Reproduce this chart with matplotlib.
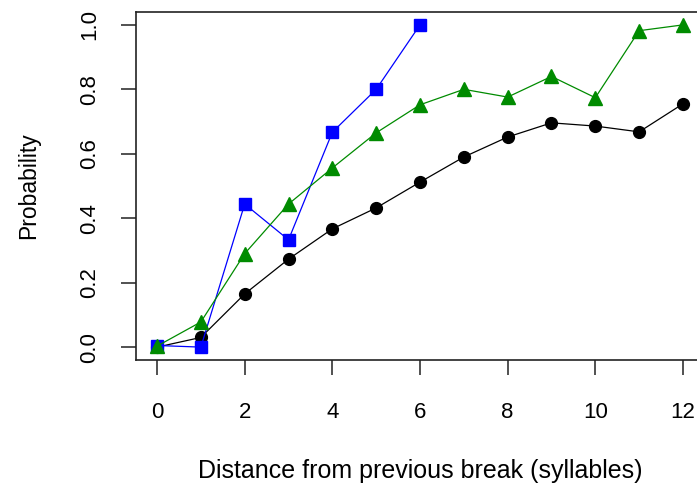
import matplotlib
matplotlib.use("Agg")
import matplotlib.pyplot as plt

plt.rcParams['font.family'] = ['Liberation Sans', 'DejaVu Sans']

# data
dist_black = list(range(13))
prob_black = [0.0, 0.03, 0.165, 0.273, 0.367, 0.432, 0.512, 0.59, 0.652, 0.696, 0.686, 0.668, 0.755]

dist_blue = list(range(7))
prob_blue = [0.005, 0.0, 0.444, 0.333, 0.667, 0.8, 1.0]

dist_green = list(range(13))
prob_green = [0.003, 0.078, 0.29, 0.444, 0.556, 0.665, 0.752, 0.80, 0.776, 0.84, 0.774, 0.982, 1.0]

xticks = [0, 2, 4, 6, 8, 10, 12]
yticks = [0.0, 0.2, 0.4, 0.6, 0.8, 1.0]

W, H = 697, 491
fig = plt.figure(figsize=(W / 100, H / 100), dpi=100)
ax = fig.add_axes([136 / W, (H - 360) / H, (704 - 136) / W, (360 - 12) / H])

ax.plot(dist_black, prob_black, color='black', lw=0.9, marker='o', ms=8.5, zorder=3)
ax.plot(dist_blue, prob_blue, color='#0000FF', lw=0.9, marker='s', ms=9, zorder=4)
ax.plot(dist_green, prob_green, color='#008B00', lw=0.9, marker='^', ms=10, zorder=5)

ax.set_xlim(-0.48, 12.48)
ax.set_ylim(-0.04, 1.04)
ax.set_xticks(xticks)
ax.set_xticklabels([str(t) for t in xticks])
ax.set_yticks(yticks)
ax.set_yticklabels(['%.1f' % t for t in yticks], rotation=90, va='center')

for s in ax.spines.values():
    s.set_linewidth(1.2)
    s.set_color('#222222')

ax.tick_params(axis='both', length=11, width=1.1, color='#222222', labelsize=16)
ax.tick_params(axis='x', pad=19)
ax.tick_params(axis='y', pad=15)

ax.set_xlabel('Distance from previous break (syllables)', fontsize=18, labelpad=26)
ax.set_ylabel('Probability', fontsize=16.5, labelpad=28)

fig.savefig('out.png', dpi=100)
